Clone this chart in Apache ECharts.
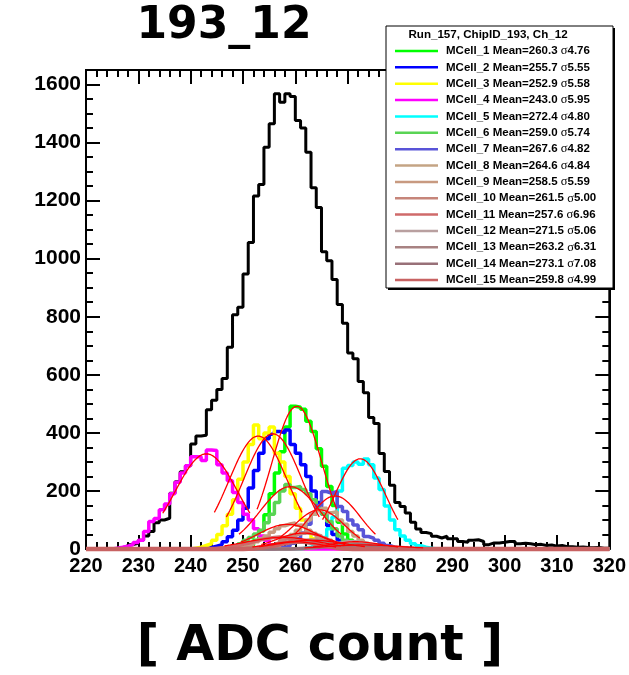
<!DOCTYPE html>
<html><head><meta charset="utf-8">
<script src="https://cdn.jsdelivr.net/npm/echarts@6/dist/echarts.min.js"></script>
<style>html,body{margin:0;padding:0;background:#fff}#c{width:629px;height:675px}</style>
</head><body><div id="c"></div>
<script>
// ---------- data ----------
const xTicks = [220, 230, 240, 250, 260, 270, 280, 290, 300, 310, 320];
const yTicks = [0, 200, 400, 600, 800, 1000, 1200, 1400, 1600];
const totalStart = 220;
const totalValues = [0,0,0,0,0,2,5,8,15,20, 30,45,60,90,100,106,192,232,266,287,
  362,389,392,480,512,549,587,695,807,833, 947,1056,1216,1256,1384,1465,1568,1539,1568,1559,
  1476,1450,1367,1244,1176,1024,993,928,842,778, 675,655,577,538,453,432,329,267,220,160,
  146,124,92,69,57,53,44,38,44,35, 35,26,23,30,32,26,15,21,21,23,
  26,26,18,20,18,15,16,12,14,10, 12,8,8,6,7,5,4,5,3,3];

const cellNames = ['MCell_1','MCell_2','MCell_3','MCell_4','MCell_5','MCell_6','MCell_7','MCell_8',
  'MCell_9','MCell_10','MCell_11','MCell_12','MCell_13','MCell_14','MCell_15'];
const cellMeans = [260.3,255.7,252.9,243.0,272.4,259.0,267.6,264.6,258.5,261.5,257.6,271.5,263.2,273.1,259.8];
const cellSigmas = [4.76,5.55,5.58,5.95,4.80,5.74,4.82,4.84,5.59,5.00,6.96,5.06,6.31,7.08,4.99];
const cellColors = ['#00ff00','#0000ff','#ffff00','#ff00ff','#00ffff','#59d454','#5954d8','#c4a484',
  '#c89a80','#c6857a','#cf6a6a','#b9a0a0','#a88282','#987078','#c86262'];
const cellStart = [250,243,240,225,261,246,256,254,248,251,244,261,250,259,250];
const cell1 = [5,12,30,62,118,190,262,335,420,492,488,481,440,405,345,285,215,150,92,52,30,15,8,4];
const cell2 = [5,10,15,25,42,65,100,140,210,270,330,380,395,405,400,410,360,330,290,250,200,160,120,80,50,30,15,8,4];
const cell3 = [3,6,12,18,30,50,80,120,170,240,300,360,427,380,400,420,330,300,250,190,140,100,60,35,20,10,5];
const cell4 = [3,6,10,15,22,30,60,95,105,135,155,190,230,262,287,318,318,305,341,339,290,262,235,195,160,120,100,70,45,30,15,8,4];
const cell5 = [3,6,12,22,40,70,110,200,278,288,300,292,310,290,245,205,148,100,66,45,30,18,11,6,3];
const cell6 = [3,6,10,18,30,40,52,65,90,120,160,200,222,212,215,205,190,170,142,120,95,70,45,30,18,10,5];
const cell7 = [3,6,10,20,35,55,85,120,150,198,192,198,146,129,100,83,66,43,37,30,20,12,6,3];
const cell8 = [3,6,10,20,35,50,65,82,100,120,132,140,125,128,100,85,60,45,30,20,12,6,3];
const cell9 = [3,6,10,16,25,35,45,58,70,80,86,90,82,76,65,54,40,30,22,15,10,5,3];
const cell10 = [2,4,7,11,16,22,30,38,46,52,56,54,50,45,38,30,22,15,10,6,3];
const cell11 = [2,4,6,9,12,16,20,25,30,34,37,40,41,40,38,35,31,27,22,18,14,10,7,5,3,2];
const cell12 = [2,3,5,8,11,15,19,22,25,26,24,22,18,14,10,7,4,2];
const cell13 = [2,3,5,7,10,13,16,20,23,26,28,30,31,30,28,25,22,18,15,11,8,6,4,2];
const cell14 = [1,2,3,4,5,7,8,10,11,12,13,14,15,14,13,12,11,9,8,6,5,4,3,2,1];
const cell15 = [1,2,4,6,9,12,16,20,23,25,26,24,21,17,13,10,7,4,2,1];
const cellValues = [cell1,cell2,cell3,cell4,cell5,cell6,cell7,cell8,cell9,cell10,cell11,cell12,cell13,cell14,cell15];
// Gaussian fit parameters: amplitude, mean/sigma from legend
const fitAmps = [492,397,389,328,311,215,183,135,85,55,40,25,30,14,25];
const fitRangeSigmas = [1.6,1.6,1.5,1.4,1.5,1.7,1.6,1.6,1.6,1.6,1.6,1.6,1.6,1.6,1.6];

// ---------- build ----------
const X0 = 220, X1 = 320;
function histData(start, vals) {
  const full = [];
  for (let b = X0; b < X1; b++) {
    const i = b - start;
    full.push([b, (i >= 0 && i < vals.length) ? vals[i] : 0]);
  }
  full.push([X1, full[full.length - 1][1]]);
  return full;
}
function fitData(k) {
  const m = cellMeans[k], s = cellSigmas[k], a = fitAmps[k], r = fitRangeSigmas[k];
  const pts = [];
  const lo = m - r * s, hi = m + r * s;
  const n = 80;
  for (let i = 0; i <= n; i++) {
    const x = lo + (hi - lo) * i / n;
    pts.push([x, a * Math.exp(-0.5 * Math.pow((x - m) / s, 2))]);
  }
  return pts;
}
const series = [];
series.push({name: 'Total', type: 'line', step: 'end', data: histData(totalStart, totalValues), clip: false,
  showSymbol: false, lineStyle: {color: '#000', width: 3}, itemStyle: {color: '#000'}, z: 2, silent: true});
for (let k = 0; k < cellNames.length; k++) {
  series.push({name: cellNames[k], type: 'line', step: 'end', data: histData(cellStart[k], cellValues[k]), clip: false,
    showSymbol: false, lineStyle: {color: cellColors[k], width: k === cellNames.length - 1 ? 4.5 : 3.5}, itemStyle: {color: cellColors[k]}, z: 3, silent: true});
  series.push({name: cellNames[k] + ' fit', type: 'line', smooth: false, data: fitData(k),
    showSymbol: false, lineStyle: {color: '#ff0000', width: 1.3}, itemStyle: {color: '#ff0000'}, z: 4, silent: true});
}

// legend drawn as graphic
const LX = 386, LY = 26, LW = 227, LH = 262;
const legendEls = [
  {type: 'rect', shape: {x: LX + 2, y: LY + 2, width: LW, height: LH}, style: {fill: '#000'}, z: 50},
  {type: 'rect', shape: {x: LX, y: LY, width: LW, height: LH}, style: {fill: '#fff', stroke: '#000', lineWidth: 1}, z: 51},
  {type: 'text', x: 488, y: 35, style: {text: 'Run_157, ChipID_193, Ch_12', font: 'bold 11.6px "Liberation Sans", Arial, sans-serif',
    fill: '#000', align: 'center', verticalAlign: 'middle'}, z: 52}
];
for (let k = 0; k < cellNames.length; k++) {
  const y = 51 + k * 16.36;
  legendEls.push({type: 'line', shape: {x1: 395, y1: y, x2: 438, y2: y}, style: {stroke: cellColors[k], lineWidth: 2.5}, z: 52});
  legendEls.push({type: 'text', x: 446, y: y, z: 52, style: {
    text: '{a|' + cellNames[k] + ' Mean=' + cellMeans[k].toFixed(1) + ' }{s|σ}{a|' + cellSigmas[k].toFixed(2) + '}',
    verticalAlign: 'middle', align: 'left',
    rich: {a: {font: 'bold 11.5px "Liberation Sans", Arial, sans-serif', fill: '#000'},
           s: {font: '12.5px "Liberation Serif", "DejaVu Serif", serif', fill: '#000'}}}});
}

const axisCommon = {
  min: X0, max: X1, interval: 10, type: 'value'
};
const option = {
  animation: false,
  backgroundColor: '#fff',
  grid: {left: 86, right: 19, top: 70, bottom: 126, show: true, borderColor: '#000', borderWidth: 2, backgroundColor: 'transparent'},
  xAxis: [
    Object.assign({}, axisCommon, {position: 'bottom',
      axisLine: {show: true, onZero: false, lineStyle: {color: '#000', width: 2}},
      axisTick: {show: true, inside: true, length: 14, lineStyle: {color: '#000', width: 2}},
      minorTick: {show: true, splitNumber: 5, length: 7, lineStyle: {color: '#000', width: 2}},
      splitLine: {show: false},
      axisLabel: {show: true, margin: 7, color: '#000', fontSize: 20, fontWeight: 'bold', fontFamily: '"Liberation Sans", Arial, sans-serif',
        formatter: v => xTicks.indexOf(v) >= 0 ? String(v) : ''}}),
    Object.assign({}, axisCommon, {position: 'top',
      axisLine: {show: true, onZero: false, lineStyle: {color: '#000', width: 2}},
      axisTick: {show: true, inside: true, length: 14, lineStyle: {color: '#000', width: 2}},
      minorTick: {show: true, splitNumber: 5, length: 7, lineStyle: {color: '#000', width: 2}},
      splitLine: {show: false}, axisLabel: {show: false}})
  ],
  yAxis: [
    {type: 'value', min: 0, max: 1650, interval: 200, position: 'left',
      axisLine: {show: true, onZero: false, lineStyle: {color: '#000', width: 2}},
      axisTick: {show: true, inside: true, length: 14, lineStyle: {color: '#000', width: 2}},
      minorTick: {show: true, splitNumber: 4, length: 7, lineStyle: {color: '#000', width: 2}},
      splitLine: {show: false},
      axisLabel: {show: true, margin: 5, color: '#000', fontSize: 21, fontWeight: 'bold', fontFamily: '"Liberation Sans", Arial, sans-serif',
        showMaxLabel: false, formatter: v => yTicks.indexOf(v) >= 0 ? String(v) : ''}},
    {type: 'value', min: 0, max: 1650, interval: 200, position: 'right',
      axisLine: {show: true, onZero: false, lineStyle: {color: '#000', width: 2}},
      axisTick: {show: true, inside: true, length: 14, lineStyle: {color: '#000', width: 2}},
      minorTick: {show: true, splitNumber: 4, length: 7, lineStyle: {color: '#000', width: 2}},
      splitLine: {show: false}, axisLabel: {show: false}}
  ],
  series: series,
  graphic: [
    {type: 'text', x: 224, y: 27, z: 60, style: {text: '193_12', font: 'bold 44px "DejaVu Sans", sans-serif', fill: '#000', align: 'center', verticalAlign: 'middle'}},
    {type: 'text', x: 320, y: 647, z: 60, style: {text: '[ ADC count ]', font: 'bold 49px "DejaVu Sans", sans-serif', fill: '#000', align: 'center', verticalAlign: 'middle'}}
  ].concat(legendEls)
};
const chart = echarts.init(document.getElementById('c'), null, {renderer: 'canvas'});
chart.setOption(option);
</script>
</body></html>
